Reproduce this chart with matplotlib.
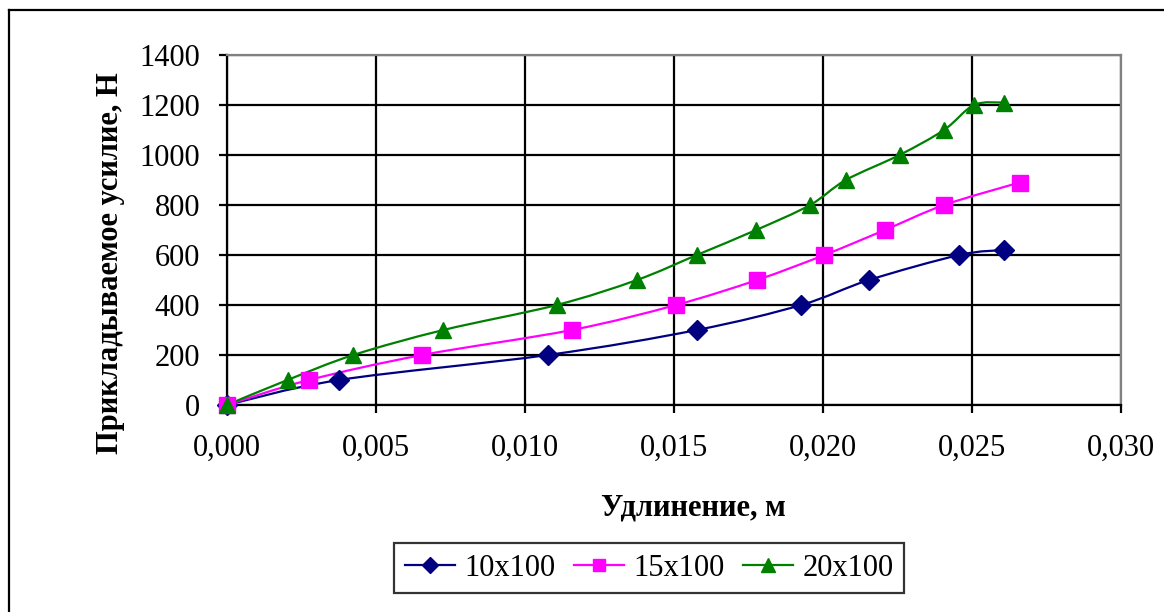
import matplotlib
matplotlib.use("Agg")
import matplotlib.pyplot as plt
import numpy as np
from matplotlib.path import Path
from matplotlib.patches import PathPatch
from matplotlib.lines import Line2D

# elongation (m) and applied force (N) for each specimen
x_10 = [0.0, 0.00377, 0.01077, 0.01577, 0.01927, 0.02155, 0.02458, 0.02606]
y_10 = [0, 100, 200, 300, 400, 500, 600, 620]

x_15 = [0.0, 0.00276, 0.00656, 0.01158, 0.01507, 0.01779, 0.02005, 0.02208, 0.02407, 0.0266]
y_15 = [0, 100, 200, 300, 400, 500, 600, 700, 800, 890]

x_20 = [0.0, 0.00204, 0.00425, 0.00727, 0.01107, 0.01376, 0.01577, 0.01776,
        0.01957, 0.02077, 0.02257, 0.02406, 0.02507, 0.02607]
y_20 = [0, 100, 200, 300, 400, 500, 600, 700, 800, 900, 1000, 1100, 1200, 1210]

labels = ["10x100", "15x100", "20x100"]
colors = ["#000080", "#FF00FF", "#008000"]
markers = ["D", "s", "^"]
msizes = [10, 11, 12]


def smooth_path(xs, ys):
    # Catmull-Rom style bezier through the points (like Excel smoothed line)
    p = np.column_stack([xs, ys]).astype(float)
    n = len(p)
    verts = [p[0]]
    codes = [Path.MOVETO]
    for i in range(n - 1):
        p0 = p[i - 1] if i > 0 else p[i]
        p1 = p[i]
        p2 = p[i + 1]
        p3 = p[i + 2] if i + 2 < n else p[i + 1]
        c1 = p1 + (p2 - p0) / 6.0
        c2 = p2 - (p3 - p1) / 6.0
        verts += [c1, c2, p2]
        codes += [Path.CURVE4] * 3
    return Path(verts, codes)


plt.rcParams["font.family"] = ["Liberation Serif", "DejaVu Serif"]

W, H = 1164, 612
fig = plt.figure(figsize=(W / 100, H / 100), dpi=100)
ax = fig.add_axes([226.7 / W, 1 - 405 / H, (1121 - 226.7) / W, 350 / H])

series = [(x_10, y_10), (x_15, y_15), (x_20, y_20)]
handles = []
for (xs, ys), lab, c, m, ms in zip(series, labels, colors, markers, msizes):
    ax.add_patch(PathPatch(smooth_path(xs, ys), fill=False, edgecolor=c, lw=1.6, zorder=3))
    ax.plot(xs, ys, linestyle="none", marker=m, color=c, markersize=ms, zorder=4, clip_on=False)
    handles.append(Line2D([], [], color=c, lw=1.6, marker=m, markersize=ms * 0.85, label=lab))

xticks = np.arange(0, 0.0301, 0.005)
ax.set_xlim(0, 0.03)
ax.set_ylim(0, 1400)
ax.set_xticks(xticks)
ax.set_yticks(np.arange(0, 1401, 200))
ax.set_xticklabels([f"{v:.3f}".replace(".", ",") for v in xticks])
ax.grid(True, color="black", lw=1.6)
ax.set_axisbelow(True)
ax.tick_params(axis="both", labelsize=22, color="black", width=1.6, length=6)
ax.tick_params(axis="y", pad=13)
ax.tick_params(axis="x", pad=15)
for side in ["top", "right"]:
    ax.spines[side].set_color("#808080")
    ax.spines[side].set_linewidth(1.6)
for side in ["left", "bottom"]:
    ax.spines[side].set_color("black")
    ax.spines[side].set_linewidth(1.6)

fig.text(693 / W, 1 - 508 / H, "Удлинение, м", ha="center", va="center",
         fontsize=22, fontweight="bold")
fig.text(111 / W, 1 - 263 / H, "Прикладываемое усилие, Н", ha="center", va="center",
         rotation=90, fontsize=22, fontweight="bold")

leg = fig.legend(handles=handles, loc="center", bbox_to_anchor=(649 / W, 1 - 568 / H),
                 ncol=3, fontsize=22, frameon=True, fancybox=False, edgecolor="black",
                 handlelength=1.65, handletextpad=0.3, columnspacing=0.6,
                 borderpad=0.35, borderaxespad=0)
leg.get_frame().set_linewidth(1.6)

# outer chart frame (only left and top edges visible)
fig.add_artist(Line2D([8.5 / W, 8.5 / W], [1 - 10 / H, 0], color="black", lw=1.6,
                      transform=fig.transFigure))
fig.add_artist(Line2D([8.5 / W, 1], [1 - 10 / H, 1 - 10 / H], color="black", lw=1.6,
                      transform=fig.transFigure))

fig.savefig("out.png", dpi=100)
